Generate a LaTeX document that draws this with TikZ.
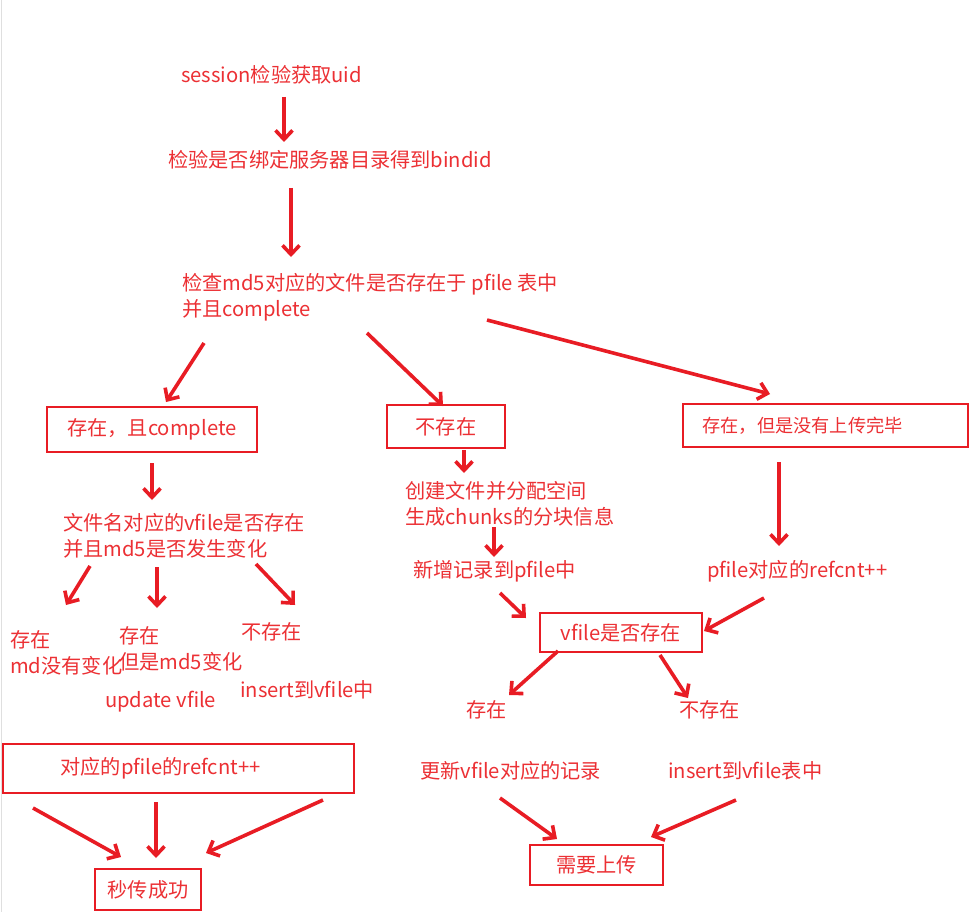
\documentclass[tikz,border=0pt]{standalone}
\usepackage{fontspec}
\setmainfont{Noto Sans CJK SC}
\usetikzlibrary{arrows.meta}
\definecolor{rd}{RGB}{232,28,36}
\definecolor{rtx}{RGB}{236,48,52}
\begin{document}
\begin{tikzpicture}[x=1pt,y=-1pt,
  fnt/.style={font=\fontsize{20.2}{26}\selectfont},
  txt/.style={fnt, text=rtx, inner sep=0pt, anchor=west, align=left},
  box/.style={fnt, draw=rd, line width=2.6pt, text=rtx, inner sep=0pt, align=center},
  arr/.style={draw=rd, line width=3.6pt, -{Straight Barb[length=9pt,width=17pt,line width=3.6pt]}}]
\useasboundingbox[fill=white] (0,0) rectangle (974,912);
\draw[gray!25, line width=1pt] (1,0) -- (1,912);

% texts
\node[txt] (t1) at (181,75) {session检验获取uid};
\node[txt] (t2) at (168,160) {检验是否绑定服务器目录得到bindid};
\node[txt] (t3) at (182,297) {检查md5对应的文件是否存在于 pfile 表中\\并且complete};
\node[txt] (t4) at (63,536) {文件名对应的vfile是否存在\\并且md5是否发生变化};
\node[txt] (t5) at (10,653) {存在\\md没有变化};
\node[txt] (t6) at (119,649) {存在\\但是md5变化};
\node[txt] (t7) at (105,702) {update vfile};
\node[txt] (t8) at (241,632) {不存在};
\node[txt] (t9) at (240,690) {insert到vfile中};
\node[txt] (t10) at (405,504) {创建文件并分配空间\\生成chunks的分块信息};
\node[txt] (t11) at (413,571) {新增记录到pfile中};
\node[txt] (t12) at (707,571) {pfile对应的refcnt++};
\node[txt] (t13) at (466,710) {存在};
\node[txt] (t14) at (679,710) {不存在};
\node[txt] (t15) at (420,771) {更新vfile对应的记录};
\node[txt] (t16) at (668,771) {insert到vfile表中};

% boxes
\node[box, minimum width=210pt, minimum height=45pt] (bA) at (152,429.5) {存在，且complete};
\node[box, minimum width=118pt, minimum height=43pt] (bB) at (446,426.5) {\raisebox{-10pt}{不存在}};
\node[box, minimum width=285pt, minimum height=43pt] (bC) at (825.5,425.5) {\fontsize{18.2}{24}\selectfont\raisebox{-7pt}{存在，但是没有上传完毕}\hspace*{46pt}};
\node[box, minimum width=351pt, minimum height=49pt] (bD) at (178.5,768.5) {\raisebox{-4pt}{对应的pfile的refcnt++}\hspace*{36pt}};
\node[box, minimum width=162pt, minimum height=39pt] (bF) at (621,632.5) {\raisebox{-5pt}{vfile是否存在}};
\node[box, minimum width=106pt, minimum height=41pt] (bE) at (148,889.5) {秒传成功};
\node[box, minimum width=133pt, minimum height=40pt] (bG) at (596.5,865) {需要上传};

% arrow end points
\coordinate (a1s) at (284,97);   \coordinate (a1e) at (284,142);
\coordinate (a2s) at (291,188);  \coordinate (a2e) at (291,257);
\coordinate (a3s) at (204,343);  \coordinate (a3e) at (166,402);
\coordinate (a4s) at (367,333);  \coordinate (a4e) at (443,406);
\coordinate (a5s) at (487,320);  \coordinate (a5e) at (770,394);
\coordinate (a6s) at (152,463);  \coordinate (a6e) at (152,500);
\coordinate (a7s) at (90,566);   \coordinate (a7e) at (66,605);
\coordinate (a8s) at (157,567);  \coordinate (a8e) at (157,608);
\coordinate (a9s) at (256,564);  \coordinate (a9e) at (295,605);
\coordinate (b1s) at (33,808);   \coordinate (b1e) at (121,857);
\coordinate (b2s) at (156,802);  \coordinate (b2e) at (156,858);
\coordinate (b3s) at (323,800);  \coordinate (b3e) at (206,853);
\coordinate (c1s) at (464,450);  \coordinate (c1e) at (464,473);
\coordinate (c2s) at (494,527);  \coordinate (c2e) at (494,557);
\coordinate (c3s) at (500,593);  \coordinate (c3e) at (526,618);
\coordinate (c4s) at (779,462);  \coordinate (c4e) at (779,546);
\coordinate (c5s) at (764,598);  \coordinate (c5e) at (704,631);
\coordinate (c6s) at (558,651);  \coordinate (c6e) at (509,695);
\coordinate (c7s) at (660,655);  \coordinate (c7e) at (688,698);
\coordinate (c8s) at (500,798);  \coordinate (c8e) at (557,839);
\coordinate (c9s) at (736,800);  \coordinate (c9e) at (651,837);

\foreach \p in {a1,a2,a3,a4,a5,a6,a7,a8,a9,b1,b2,b3,c1,c2,c3,c4,c5,c6,c7,c8,c9}
  \draw[arr] (\p s) -- (\p e);
\end{tikzpicture}
\end{document}
